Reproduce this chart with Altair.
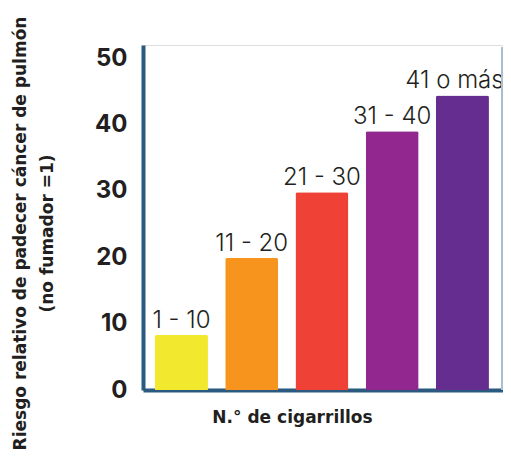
import altair as alt
import pandas as pd

categories = ["1 - 10", "11 - 20", "21 - 30", "31 - 40", "41 o más"]
risk_values = [8.3, 19.9, 29.8, 39.0, 44.4]
bar_colors = ["#f2e92e", "#f7941e", "#ef4136", "#92278f", "#662d91"]
y_ticks = [0, 10, 20, 30, 40, 50]

df = pd.DataFrame({"cat": categories, "risk": risk_values})

W, H = 360, 345

x_enc = alt.X(
    "cat:N",
    sort=categories,
    scale=alt.Scale(paddingInner=0.2456, paddingOuter=0.185, align=0.46),
    axis=alt.Axis(
        labels=False, ticks=False, domainColor="#2a5a80", domainWidth=4,
        title="N.° de cigarrillos", titleFont="DejaVu Sans", titleFontSize=17,
        titleFontWeight="bold", titleColor="#231f20",
        titleX=149, titleY=32, titleAlign="center", titleBaseline="alphabetic",
    ),
)
y_enc = alt.Y(
    "risk:Q",
    scale=alt.Scale(domain=[0, 52], nice=False),
    axis=alt.Axis(
        values=y_ticks, ticks=False, grid=False, labelPadding=16,
        labelFont="Inter", labelFontSize=24, labelFontWeight="bold",
        labelColor="#231f20", domainColor="#2a5a80", domainWidth=4,
        title=["Riesgo relativo de padecer cáncer de pulmón", "(no fumador =1)"],
        titleFont="DejaVu Sans", titleFontSize=17, titleFontWeight="bold",
        titleColor="#231f20", titleLineHeight=27, titleAngle=270,
        titleX=-131, titleY=188, titleAlign="center", titleBaseline="top",
    ),
)

bars = alt.Chart(df).mark_bar(cornerRadiusTopLeft=2, cornerRadiusTopRight=2).encode(
    x=x_enc,
    y=y_enc,
    color=alt.Color("cat:N", sort=categories,
                    scale=alt.Scale(domain=categories, range=bar_colors), legend=None),
)

text_main = alt.Chart(df).transform_filter(
    alt.datum.cat != categories[-1]
).mark_text(font="Inter", fontSize=24, fontWeight=300, color="#231f20",
            baseline="alphabetic", align="center", dy=-7).encode(
    x=alt.X("cat:N", sort=categories),
    y="risk:Q",
    text="cat:N",
)
text_last = alt.Chart(df).transform_filter(
    alt.datum.cat == categories[-1]
).mark_text(font="Inter", fontSize=24, fontWeight=300, color="#231f20",
            baseline="alphabetic", align="center", dy=-7, dx=-8).encode(
    x=alt.X("cat:N", sort=categories),
    y="risk:Q",
    text="cat:N",
)

right_line = alt.Chart(df).mark_rule(color="#a9bfd3", strokeWidth=1.5).encode(
    x=alt.value(W - 1), y=alt.value(2), y2=alt.value(H)
)

chart = alt.layer(bars, text_main, text_last, right_line).properties(
    width=W, height=H,
    autosize=alt.AutoSizeParams(type="none"),
    padding={"left": 135, "top": 37, "right": 0, "bottom": 62},
).configure_view(stroke=None).configure(background="white")

chart.save("out.html", embed_options={"renderer": "svg", "actions": False})
